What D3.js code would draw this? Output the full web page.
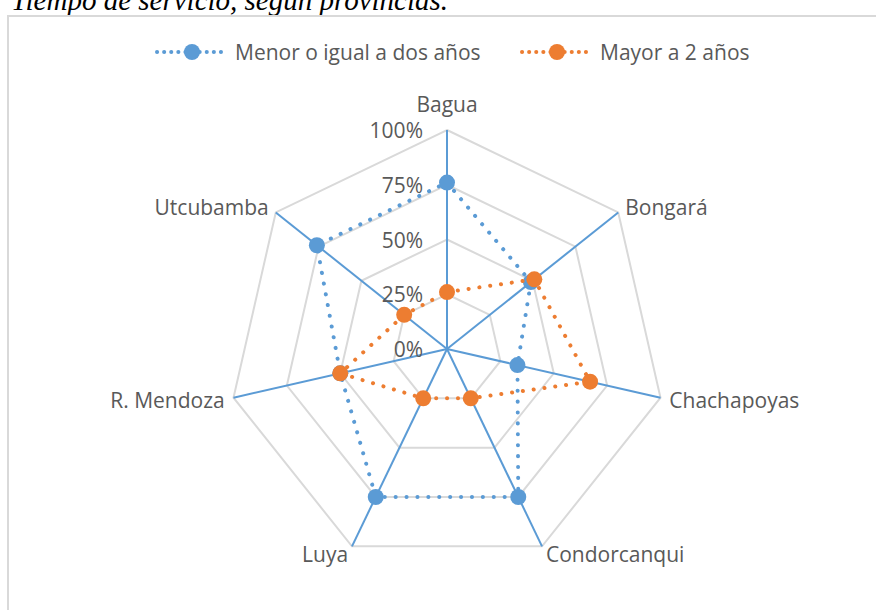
<!DOCTYPE html>
<html>
<head>
<meta charset="utf-8">
<script src="https://cdn.jsdelivr.net/npm/d3@7"></script>
<style>
  body { margin: 0; background: #fff; }
  text { font-family: "Open Sans", sans-serif; fill: #595959; }
</style>
</head>
<body>
<svg id="chart"></svg>
<script>
var w = 876,
    h = 610,
    cx = 447,
    cy = 349,
    R = 219,
    fs = "21px";

var categories = ["Bagua", "Bongará", "Chachapoyas", "Condorcanqui", "Luya", "R. Mendoza", "Utcubamba"];
var menor = [0.76, 0.49, 0.33, 0.75, 0.75, 0.50, 0.76];
var mayor = [0.26, 0.51, 0.67, 0.25, 0.25, 0.50, 0.25];
var seriesNames = ["Menor o igual a dos años", "Mayor a 2 años"];
var seriesColors = ["#5B9BD5", "#ED7D31"];
var ticks = [0, 0.25, 0.5, 0.75, 1];

var series = [
  { name: seriesNames[0], color: seriesColors[0], values: menor },
  { name: seriesNames[1], color: seriesColors[1], values: mayor }
];

var svg = d3.select("#chart")
  .attr("width", w)
  .attr("height", h);

// title, cut off at the top like the source
svg.append("text")
  .attr("x", 11)
  .attr("y", 10)
  .style("font-family", "'Liberation Serif', serif")
  .style("font-style", "italic")
  .style("font-size", "29px")
  .style("fill", "#000")
  .text("Tiempo de servicio, según provincias.");

// chart frame
svg.append("path")
  .attr("d", "M8," + (h + 5) + "V16H" + (w + 5))
  .attr("fill", "none")
  .attr("stroke", "#D9D9D9")
  .attr("stroke-width", 2);

var r = d3.scaleLinear().domain([0, 1]).range([0, R]);
var angle = d3.scalePoint().domain(d3.range(categories.length + 1)).range([0, 2 * Math.PI]);
function a(i) { return angle(i); }

var g = svg.append("g").attr("transform", "translate(" + cx + "," + cy + ")");

// grid rings
var ring = d3.lineRadial()
  .angle(function(d, i) { return a(i); })
  .radius(function(d) { return r(d); })
  .curve(d3.curveLinearClosed);

g.selectAll(".ring")
  .data(ticks.slice(1))
  .enter().append("path")
  .attr("class", "ring")
  .attr("d", function(t) { return ring(categories.map(function() { return t; })); })
  .attr("fill", "none")
  .attr("stroke", "#D9D9D9")
  .attr("stroke-width", 2);

// spokes
g.selectAll(".spoke")
  .data(categories)
  .enter().append("line")
  .attr("class", "spoke")
  .attr("x1", 0).attr("y1", 0)
  .attr("x2", function(d, i) { return Math.sin(a(i)) * r(1); })
  .attr("y2", function(d, i) { return -Math.cos(a(i)) * r(1); })
  .attr("stroke", "#5B9BD5")
  .attr("stroke-width", 2);

// tick labels
g.selectAll(".tick")
  .data(ticks)
  .enter().append("text")
  .attr("class", "tick")
  .attr("x", -24)
  .attr("y", function(t) { return -r(t); })
  .attr("text-anchor", "end")
  .attr("dominant-baseline", "central")
  .style("font-size", fs)
  .text(d3.format(".0%"));

// category labels
g.selectAll(".cat")
  .data(categories)
  .enter().append("text")
  .attr("class", "cat")
  .attr("x", function(d, i) { return Math.sin(a(i)) * (R + 9); })
  .attr("y", function(d, i) {
    var pad = Math.abs(Math.sin(a(i))) < 0.1 ? 26 : 8;
    return -Math.cos(a(i)) * (R + pad);
  })
  .attr("text-anchor", function(d, i) {
    var s = Math.sin(a(i));
    return Math.abs(s) < 0.1 ? "middle" : s > 0 ? "start" : "end";
  })
  .attr("dominant-baseline", "central")
  .style("font-size", fs)
  .text(function(d) { return d; });

// series
var line = d3.lineRadial()
  .angle(function(d, i) { return a(i); })
  .radius(function(d) { return r(d); })
  .curve(d3.curveLinearClosed);

var sg = g.selectAll(".series")
  .data(series)
  .enter().append("g")
  .attr("class", "series");

sg.append("path")
  .attr("d", function(s) { return line(s.values); })
  .attr("fill", "none")
  .attr("stroke", function(s) { return s.color; })
  .attr("stroke-width", 4)
  .attr("stroke-linecap", "round")
  .attr("stroke-dasharray", "0.1 10.8");

sg.selectAll("circle")
  .data(function(s) { return s.values.map(function(v, i) { return { v: v, i: i, color: s.color }; }); })
  .enter().append("circle")
  .attr("cx", function(d) { return Math.sin(a(d.i)) * r(d.v); })
  .attr("cy", function(d) { return -Math.cos(a(d.i)) * r(d.v); })
  .attr("r", 8)
  .attr("fill", function(d) { return d.color; });

// legend
var legendX = [157, 522];
var lg = svg.selectAll(".legend")
  .data(series)
  .enter().append("g")
  .attr("class", "legend")
  .attr("transform", function(d, i) { return "translate(" + legendX[i] + ",52)"; });

lg.append("line")
  .attr("x1", 0).attr("x2", 70)
  .attr("stroke", function(d) { return d.color; })
  .attr("stroke-width", 4)
  .attr("stroke-linecap", "round")
  .attr("stroke-dasharray", "0.1 7");

lg.append("circle")
  .attr("cx", 35)
  .attr("r", 8)
  .attr("fill", function(d) { return d.color; });

lg.append("text")
  .attr("x", 78)
  .attr("dominant-baseline", "central")
  .style("font-size", fs)
  .text(function(d) { return d.name; });
</script>
</body>
</html>
